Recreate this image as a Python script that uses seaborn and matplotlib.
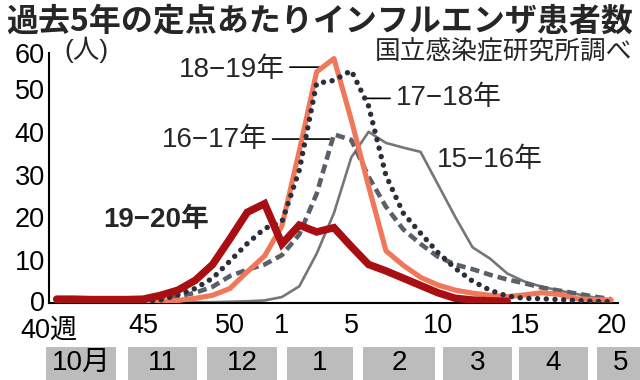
import matplotlib
matplotlib.use("Agg")
import matplotlib.pyplot as plt
import matplotlib.transforms as mtransforms
from matplotlib.patches import Rectangle
import seaborn as sns
import pandas as pd

# ---------------- data ----------------
weeks = [40, 41, 42, 43, 44, 45, 46, 47, 48, 49, 50, 51, 52,
         1, 2, 3, 4, 5, 6, 7, 8, 9, 10, 11, 12, 13, 14, 15, 16, 17, 18, 19, 20]
week_labels_shown = {40: "40週", 45: "45", 50: "50", 1: "1", 5: "5", 10: "10", 15: "15", 20: "20"}

s1516 = [0.1, 0.1, 0.1, 0.1, 0.1, 0.1, 0.1, 0.2, 0.2, 0.2, 0.3, 0.4, 0.6,
         1.4, 3.9, 11.5, 21.0, 34.0, 40.0, 37.4, 36.3, 35.3, 27.7, 20.1, 13.0,
         10.4, 6.9, 5.0, 3.8, 2.9, 2.1, 1.3, 0.7]
s1617 = [0.3, 0.3, 0.3, 0.4, 0.5, 0.6, 0.9, 1.5, 2.4, 3.8, 6.3, 7.8, 9.0,
         11.2, 16.0, 25.5, 39.4, 38.1, 29.5, 22.5, 17.2, 13.8, 10.8, 9.0, 7.9,
         6.6, 5.5, 4.6, 3.6, 2.9, 2.2, 1.5, 0.9]
s1718 = [0.1, 0.1, 0.1, 0.2, 0.2, 0.3, 0.7, 1.9, 3.4, 5.8, 9.8, 13.9, 17.4,
         19.0, 31.0, 51.3, 52.0, 54.3, 46.0, 29.8, 21.0, 16.3, 11.8, 8.1, 5.1,
         3.0, 1.6, 1.1, 1.0, 0.8, 0.6, 0.4, 0.3]
s1819 = [0.2, 0.2, 0.2, 0.2, 0.2, 0.3, 0.4, 0.6, 1.1, 1.8, 3.4, 7.3, 11.0,
         18.0, 35.5, 54.0, 57.1, 42.8, 27.3, 12.2, 8.8, 6.0, 4.2, 3.0, 2.3,
         1.8, 1.5, 1.9, 2.4, 2.0, 1.0, 0.8, 0.7]
s1920 = [0.9, 0.9, 0.8, 0.8, 0.8, 0.9, 1.8, 3.0, 5.3, 9.0, 15.0, 21.2, 23.2,
         13.8, 18.2, 16.6, 17.6, 13.2, 9.0, 7.5, 5.8, 4.1, 2.4, 1.1, 0.7,
         0.5, 0.4]

season_names = ["15−16年", "16−17年", "17−18年", "18−19年", "19−20年"]

months = ["10月", "11", "12", "1", "2", "3", "4", "5"]
month_start = [-0.62, 4.11, 8.67, 13.29, 17.67, 22.29, 26.68, 31.18]
month_end = [3.42, 8.10, 12.71, 17.10, 21.83, 26.27, 30.66, 33.95]

title = "過去5年の定点あたりインフルエンザ患者数"
source = "国立感染症研究所調べ"
unit = "(人)"

# ---------------- plot ----------------
sns.set_style("white")
plt.rcParams["font.family"] = ["Liberation Sans", "Noto Sans CJK JP", "DejaVu Sans"]

fig = plt.figure(figsize=(6.4, 3.8), dpi=100)
ax = fig.add_axes([0.0766, 0.2026, 0.889, 0.6579])

idx = list(range(len(weeks)))

def frame(vals):
    return pd.DataFrame({"i": idx[:len(vals)], "v": vals})

sns.lineplot(data=frame(s1516), x="i", y="v", ax=ax, color="#767676", lw=1.9, zorder=2)
sns.lineplot(data=frame(s1617), x="i", y="v", ax=ax, color="#59606a", lw=3.3,
             linestyle=(0, (2.0, 1.1)), zorder=3)
sns.lineplot(data=frame(s1819), x="i", y="v", ax=ax, color="#f0775a", lw=3.7, zorder=4)
sns.lineplot(data=frame(s1718), x="i", y="v", ax=ax, color="#2a2f3a", lw=3.9,
             linestyle=(0, (0.01, 1.6)), dash_capstyle="round", zorder=5)
sns.lineplot(data=frame(s1920), x="i", y="v", ax=ax, color="#a80e12", lw=5.4,
             solid_joinstyle="miter", zorder=6)

ax.set_xlim(-0.44, 32.39)
ax.set_ylim(0, 58.4)
ax.set_xlabel("")
ax.set_ylabel("")

for side in ["top", "right"]:
    ax.spines[side].set_visible(False)
for side in ["left", "bottom"]:
    ax.spines[side].set_linewidth(1.5)
    ax.spines[side].set_color("black")

# y ticks (top tick labelled 60 at the axis top as in the reference)
ax.set_yticks([0, 10, 20, 30, 40, 50, 58.4])
ax.set_yticklabels(["0", "10", "20", "30", "40", "50", "60"])
ax.tick_params(axis="y", direction="in", length=9, width=1.5, pad=3,
               labelsize=19.5, colors="black")
ylab0 = ax.get_yticklabels()[0]
ylab0.set_transform(ylab0.get_transform() +
                    mtransforms.ScaledTranslation(0, 2 / 100, fig.dpi_scale_trans))

ax.set_xticks(idx)
ax.set_xticklabels([week_labels_shown.get(w, "") for w in weeks])
ax.tick_params(axis="x", direction="out", length=4.5, width=1.2, pad=3,
               labelsize=19.5, colors="black")
lab0 = ax.get_xticklabels()[0]
lab0.set_transform(lab0.get_transform() +
                   mtransforms.ScaledTranslation(-8 / 100, -4 / 100, fig.dpi_scale_trans))

# month bands
trans = mtransforms.blended_transform_factory(ax.transData, fig.transFigure)
for m, a, b in zip(months, month_start, month_end):
    ax.add_patch(Rectangle((a, 0.0), b - a, 0.088, transform=trans,
                           facecolor="#bcbcbc", edgecolor="none", clip_on=False))
    ax.text((a + b) / 2, 0.044, m, transform=trans, ha="center", va="center",
            fontsize=20, color="black", clip_on=False)

# series labels
ax.text(10.12, 54.4, season_names[3], ha="center", va="center", fontsize=20)
ax.annotate("", xy=(15.4, 55.1), xytext=(13.3, 55.1),
            arrowprops=dict(arrowstyle="-", lw=1.2, color="black"))
ax.text(22.6, 47.8, season_names[2], ha="center", va="center", fontsize=20)
ax.annotate("", xy=(17.6, 47.8), xytext=(19.4, 47.8),
            arrowprops=dict(arrowstyle="-", lw=1.2, color="black"))
ax.text(9.1, 38.0, season_names[1], ha="center", va="center", fontsize=20)
ax.annotate("", xy=(15.9, 38.3), xytext=(12.3, 38.3),
            arrowprops=dict(arrowstyle="-", lw=1.2, color="black"))
ax.text(25.0, 33.4, season_names[0], ha="center", va="center", fontsize=20)
ax.text(5.73, 19.4, season_names[4], ha="center", va="center", fontsize=20,
        fontweight="bold")

# title / source / unit
fig.text(0.5, 1 - 22 / 380, title, ha="center", va="center", fontsize=23,
         fontweight="bold", family=["Noto Sans CJK JP", "DejaVu Sans"])
fig.text(632 / 640, 1 - 52 / 380, source, ha="right", va="center", fontsize=18.5,
         family=["Noto Sans CJK JP", "DejaVu Sans"])
fig.text(64 / 640, 1 - 50 / 380, unit, ha="left", va="center", fontsize=19,
         family=["Liberation Sans", "Noto Sans CJK JP"])

fig.savefig("out.png", dpi=100, facecolor="white")
